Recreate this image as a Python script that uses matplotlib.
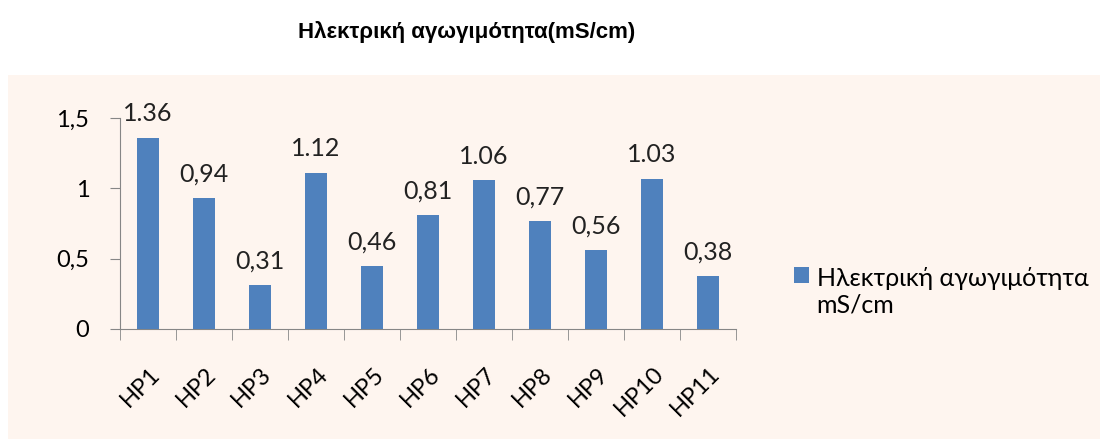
import numpy as np
import matplotlib.pyplot as plt
from matplotlib.patches import Rectangle
from matplotlib.transforms import ScaledTranslation

# Dữ liệu
categories = ["HP1", "HP2", "HP3", "HP4", "HP5", "HP6", "HP7", "HP8", "HP9", "HP10", "HP11"]
values = [1.36, 0.93, 0.31, 1.11, 0.45, 0.81, 1.06, 0.77, 0.56, 1.07, 0.38]
value_labels = ["1.36", "0,94", "0,31", "1.12", "0,46", "0,81", "1.06", "0,77", "0,56", "1.03", "0,38"]
yticks = [0, 0.5, 1, 1.5]
ytick_labels = ["0", "0,5", "1", "1,5"]
series_name = "Ηλεκτρική αγωγιμότητα\nmS/cm"
title = "Ηλεκτρική αγωγιμότητα(mS/cm)"

plt.rcParams['font.family'] = ['Lato', 'Noto Sans', 'DejaVu Sans']

fig = plt.figure(figsize=(11, 4.41), dpi=100)

# nền màu hồng nhạt của vùng biểu đồ
fig.patches.append(Rectangle((0.007, 0.004), 0.993, 0.826, transform=fig.transFigure,
                             facecolor="#FEF5EF", edgecolor="none", zorder=-5))

fig.text(0.424, 0.927, title, ha="center", va="center", fontsize=16,
         fontweight="bold", family=["Liberation Sans", "DejaVu Sans"])

ax = fig.add_axes([0.109, 0.254, 0.56, 0.478])
ax.set_facecolor("none")

x = np.arange(len(categories))
bars = ax.bar(x, values, width=0.38, color="#4F81BD", label=series_name, zorder=3)

for xi, v, lab in zip(x, values, value_labels):
    ax.annotate(lab, (xi, v), xytext=(0, 9), textcoords="offset points",
                ha="center", va="bottom", fontsize=18, color="#222222")

ax.set_xlim(-0.5, len(categories) - 0.5)
ax.set_ylim(0, 1.5)
ax.set_yticks(yticks)
ax.set_yticklabels(ytick_labels, fontsize=17)
ax.set_xticks(x)
ax.set_xticklabels(categories, rotation=45, ha="right", va="center",
                   rotation_mode="anchor", fontsize=17)
ax.set_xticks(np.arange(len(categories) + 1) - 0.5, minor=True)
ax.tick_params(axis="x", which="major", length=0, pad=30)
ax.tick_params(axis="x", which="minor", length=8, color="#868686", direction="out")
ax.tick_params(axis="y", length=7, color="#868686", pad=15)

# dịch nhãn trục x sang phải một chút
shift = ScaledTranslation(6 / 72, 0, fig.dpi_scale_trans)
for lbl in ax.get_xticklabels():
    lbl.set_transform(lbl.get_transform() + shift)

for s in ["top", "right"]:
    ax.spines[s].set_visible(False)
for s in ["left", "bottom"]:
    ax.spines[s].set_color("#868686")

leg = ax.legend(loc="upper left", bbox_to_anchor=(1.058, 0.40), frameon=False, fontsize=18,
                handlelength=0.6, handleheight=0.6, handletextpad=0.3, borderpad=0.4)
# ô màu căn theo dòng đầu tiên
for col in leg._legend_handle_box.get_children():
    for item in col.get_children():
        item.align = "top"

plt.savefig("out.png")
